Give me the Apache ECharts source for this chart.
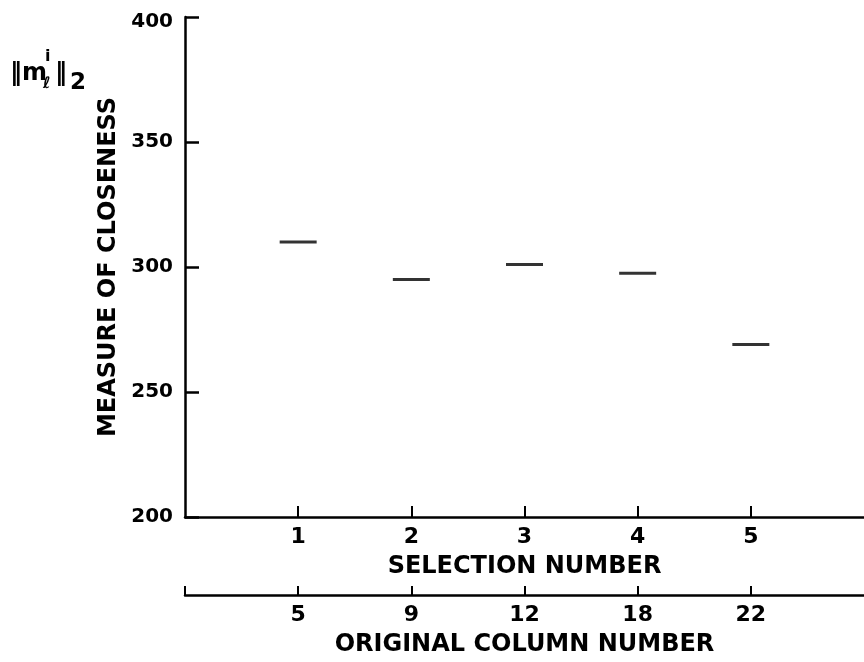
<!DOCTYPE html>
<html>
<head>
<meta charset="utf-8">
<script src="https://cdn.jsdelivr.net/npm/echarts@6/dist/echarts.min.js"></script>
<style>
  html, body { margin: 0; padding: 0; background: #fff; }
  #chart { width: 864px; height: 662px; }
</style>
</head>
<body>
<div id="chart"></div>
<script>
// ---- data ----
const selectionNumbers = [1, 2, 3, 4, 5];
const originalColumns = [5, 9, 12, 18, 22];
const closeness = [310, 295, 301, 297.5, 269];
const yTicks = [200, 250, 300, 350, 400];

const FONT = '"DejaVu Sans", "Liberation Sans", Arial, sans-serif';
const INK = '#000';

const chart = echarts.init(document.getElementById('chart'), null, { renderer: 'canvas' });

const option = {
  backgroundColor: '#fff',
  animation: false,
  grid: { left: 185, top: 17, width: 681, height: 500, containLabel: false },
  xAxis: [
    {
      type: 'value', min: 0, max: 6, interval: 1, position: 'bottom',
      name: 'SELECTION NUMBER', nameLocation: 'middle', nameGap: 38,
      nameTextStyle: { color: INK, fontFamily: FONT, fontWeight: 'bold', fontSize: 24 },
      axisLine: { show: true, lineStyle: { color: INK, width: 2.5 } },
      axisTick: { show: true, inside: true, length: 11, customValues: selectionNumbers, lineStyle: { color: INK, width: 2 } },
      axisLabel: {
        color: INK, fontFamily: FONT, fontWeight: 'bold', fontSize: 22, margin: 9,
        customValues: selectionNumbers,
        formatter: v => String(v)
      },
      splitLine: { show: false }
    },
    {
      type: 'value', min: 0, max: 6, interval: 1, position: 'bottom', offset: 78,
      name: 'ORIGINAL COLUMN NUMBER', nameLocation: 'middle', nameGap: 38,
      nameTextStyle: { color: INK, fontFamily: FONT, fontWeight: 'bold', fontSize: 24 },
      axisLine: { show: true, onZero: false, lineStyle: { color: INK, width: 2.5 } },
      axisTick: { show: true, inside: true, length: 9, customValues: [0].concat(selectionNumbers), lineStyle: { color: INK, width: 2 } },
      axisLabel: {
        color: INK, fontFamily: FONT, fontWeight: 'bold', fontSize: 22, margin: 9,
        customValues: selectionNumbers,
        formatter: v => {
          const i = selectionNumbers.indexOf(v);
          return i >= 0 ? String(originalColumns[i]) : '';
        }
      },
      splitLine: { show: false }
    }
  ],
  yAxis: {
    type: 'value', min: 200, max: 400, interval: 50,
    name: 'MEASURE OF CLOSENESS', nameLocation: 'middle', nameGap: 61, nameRotate: 90,
    nameTextStyle: { color: INK, fontFamily: FONT, fontWeight: 'bold', fontSize: 24 },
    axisLine: { show: true, lineStyle: { color: INK, width: 2.5 } },
    axisTick: { show: true, inside: true, length: 14, lineStyle: { color: INK, width: 2.5 } },
    axisLabel: {
      color: INK, fontFamily: FONT, fontWeight: 'bold', fontSize: 20, margin: 12,
      formatter: v => (yTicks.indexOf(v) >= 0 ? (v === 400 ? '{t|' + v + '}' : String(v)) : ''),
      rich: { t: { color: INK, fontFamily: FONT, fontWeight: 'bold', fontSize: 20, padding: [10, 0, 0, 0] } }
    },
    splitLine: { show: false }
  },
  series: [
    {
      type: 'scatter',
      xAxisIndex: 0,
      symbol: 'rect',
      symbolSize: [37, 3],
      itemStyle: { color: INK },
      data: selectionNumbers.map((s, i) => [s, closeness[i]])
    }
  ],
  graphic: [
    { type: 'text', left: 10, top: 62, style: { text: '\u2016m', font: 'bold 24px ' + FONT, fill: INK } },
    { type: 'text', left: 45, top: 49, style: { text: 'i', font: 'bold 16px ' + FONT, fill: INK } },
    { type: 'text', left: 43, top: 76, style: { text: '\u2113', font: 'bold 16px ' + FONT, fill: INK } },
    { type: 'text', left: 55, top: 62, style: { text: '\u2016', font: 'bold 24px ' + FONT, fill: INK } },
    { type: 'text', left: 70, top: 72, style: { text: '2', font: 'bold 23px ' + FONT, fill: INK } }
  ]
};

chart.setOption(option);
</script>
</body>
</html>
